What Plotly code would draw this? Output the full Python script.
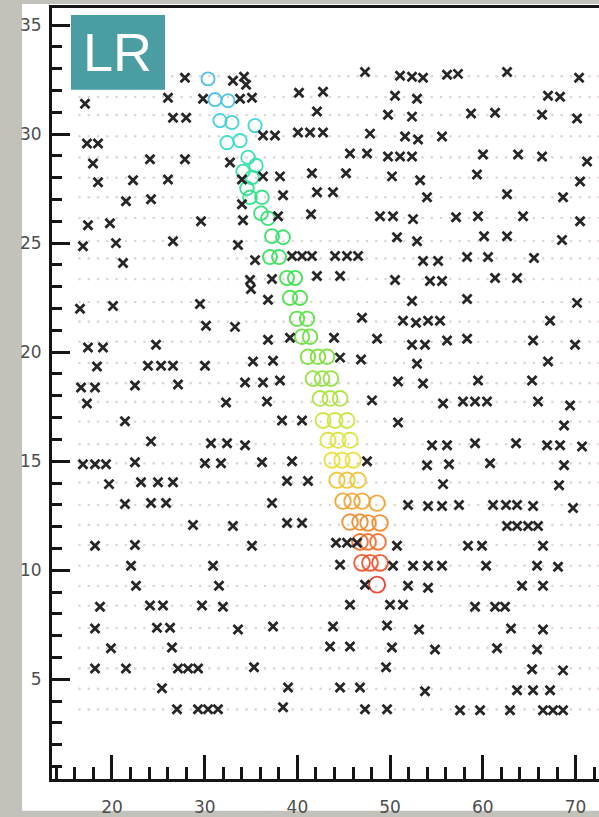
import numpy as np
import plotly.graph_objects as go

# Pad rows of the readout plane (row centre heights)
ROW_Y = [32.65, 31.70, 30.87, 29.90, 28.93, 28.00, 27.10, 26.15, 25.10, 24.30, 23.35,
         22.30, 21.40, 20.48, 19.50, 18.58, 17.72, 16.82, 15.78, 14.90, 14.02, 12.99,
         12.08, 11.16, 10.21, 9.28, 8.37, 7.35, 6.44, 5.50, 4.56, 3.62]
PAD_X_MIN, PAD_X_MAX, PAD_PITCH = 16.5, 73.0, 1.0

# Noise hits (x, y), listed row by row from top to bottom
HIT_X = [
    27.87, 33.05, 34.24, 34.46, 47.29, 51.07, 52.36, 53.55, 56.14, 57.32, 62.61, 70.38,
    17.09, 26.04, 29.82, 33.81, 35.10, 40.17, 42.76, 50.53, 52.90, 67.03, 68.33,
    26.58, 28.00, 42.11, 49.77, 52.36, 58.73, 61.32, 66.39, 70.16,
    17.30, 18.49, 36.29, 37.58, 40.06, 41.36, 42.76, 47.83, 51.61, 53.01, 55.60,
    17.95, 24.10, 27.87, 32.73, 45.67, 47.51, 49.77, 51.07, 52.36, 60.02, 63.80, 66.39, 71.24,
    18.49, 22.27, 26.04, 34.02, 36.29, 38.12, 41.57, 45.24, 50.20, 53.23, 59.37, 70.49,
    21.51, 24.21, 34.02, 38.45, 42.11, 43.84, 53.98, 62.61, 68.65,
    17.41, 19.78, 29.60, 34.13, 37.91, 41.47, 48.91, 50.31, 52.47, 57.11, 59.48, 64.34, 70.49,
    16.87, 20.43, 26.58, 33.59, 50.74, 52.90, 60.13, 62.61, 68.54,
    21.19, 35.43, 39.42, 40.50, 41.57, 44.06, 45.35, 46.54, 53.55, 55.17, 58.30, 60.56, 65.52,
    34.89, 34.99, 37.26, 42.11, 44.60, 50.53, 54.30, 55.60, 61.32, 63.69,
    16.55, 20.11, 29.49, 36.83, 52.36, 58.30, 70.16,
    30.14, 33.27, 46.97, 51.39, 52.79, 54.09, 55.38, 67.25,
    17.41, 19.03, 24.75, 36.83, 39.20, 43.95, 48.59, 52.36, 53.76, 56.14, 58.30, 65.42, 69.95,
    18.38, 23.88, 25.29, 26.58, 30.03, 35.21, 37.37, 44.60, 46.86, 52.90, 67.03,
    16.66, 18.17, 22.48, 27.12, 34.35, 36.29, 38.12, 50.85, 53.55, 59.48, 65.31,
    17.30, 32.30, 36.72, 48.05, 55.71, 57.86, 59.16, 60.45, 65.95, 69.41,
    21.40, 38.34, 40.50, 50.85, 68.76,
    24.21, 30.68, 32.41, 34.35, 54.52, 56.14, 59.16, 63.58, 66.93, 68.33, 70.70,
    16.87, 18.17, 19.35, 22.48, 30.03, 31.76, 36.18, 39.42, 47.51, 53.98, 56.35, 60.78, 68.76,
    19.68, 23.13, 24.96, 26.58, 38.88, 41.14, 55.71, 68.22,
    21.40, 24.21, 25.83, 37.26, 51.93, 54.09, 55.60, 57.43, 61.10, 62.50, 63.69, 65.42, 69.73,
    28.74, 33.05, 38.88, 40.50, 62.61, 63.69, 64.88, 65.95,
    18.17, 22.48, 35.10, 44.16, 45.35, 46.43, 50.74, 58.40, 59.91, 66.49,
    22.05, 30.90, 44.60, 50.31, 52.47, 54.09, 55.60, 60.35, 65.85, 68.11,
    22.59, 31.54, 47.29, 51.93, 54.09, 64.23, 66.49,
    18.71, 24.10, 25.50, 29.71, 31.97, 45.67, 49.99, 51.39, 59.16, 61.32, 62.39,
    18.17, 24.85, 26.26, 33.59, 37.37, 43.84, 49.67, 53.12, 63.04, 66.49,
    19.89, 26.47, 43.52, 45.67, 50.20, 54.84, 61.53, 65.85,
    18.17, 21.51, 27.12, 28.20, 29.28, 35.32, 49.56, 65.31, 68.65,
    25.39, 38.99, 44.60, 46.75, 53.76, 63.69, 65.42, 67.25,
    27.01, 29.28, 30.36, 31.43, 38.45, 47.29, 49.67, 57.54, 59.70, 62.93, 66.49, 67.57, 68.65,
]
HIT_Y = [
    32.58, 32.44, 32.63, 32.26, 32.85, 32.67, 32.63, 32.58, 32.72, 32.76, 32.85, 32.58,
    31.39, 31.67, 31.62, 31.62, 31.67, 31.89, 31.94, 31.76, 31.62, 31.76, 31.71,
    30.75, 30.75, 31.03, 30.89, 30.80, 30.94, 30.98, 30.89, 30.71,
    29.57, 29.57, 29.93, 29.93, 30.07, 30.07, 30.07, 30.02, 29.89, 29.75, 29.89,
    28.65, 28.84, 28.84, 28.70, 29.11, 29.11, 28.97, 28.97, 28.97, 29.06, 29.06, 28.97, 28.74,
    27.79, 27.88, 27.92, 27.92, 28.06, 28.06, 28.20, 28.20, 28.06, 27.88, 28.15, 27.83,
    26.92, 27.01, 26.78, 27.19, 27.33, 27.33, 27.10, 27.24, 27.10,
    25.82, 25.91, 26.00, 26.05, 26.23, 26.32, 26.23, 26.23, 26.10, 26.19, 26.23, 26.23, 26.00,
    24.86, 25.00, 25.09, 24.91, 25.27, 25.09, 25.32, 25.32, 25.14,
    24.09, 24.22, 24.41, 24.41, 24.41, 24.41, 24.41, 24.41, 24.18, 24.18, 24.36, 24.36, 24.32,
    23.31, 22.90, 23.36, 23.49, 23.49, 23.31, 23.26, 23.26, 23.40, 23.40,
    21.99, 22.12, 22.21, 22.40, 22.35, 22.44, 22.26,
    21.21, 21.16, 21.58, 21.44, 21.35, 21.44, 21.44, 21.44,
    20.21, 20.21, 20.34, 20.57, 20.66, 20.66, 20.62, 20.34, 20.34, 20.53, 20.62, 20.53, 20.34,
    19.34, 19.38, 19.38, 19.38, 19.38, 19.57, 19.61, 19.75, 19.66, 19.47, 19.57,
    18.38, 18.38, 18.47, 18.52, 18.61, 18.61, 18.70, 18.65, 18.56, 18.70, 18.70,
    17.65, 17.69, 17.74, 17.79, 17.65, 17.74, 17.74, 17.74, 17.74, 17.56,
    16.83, 16.87, 16.87, 16.78, 16.64,
    15.91, 15.82, 15.82, 15.73, 15.73, 15.73, 15.82, 15.82, 15.73, 15.73, 15.68,
    14.86, 14.86, 14.86, 14.95, 14.91, 14.91, 14.95, 15.00, 15.00, 14.82, 14.86, 14.91, 14.82,
    13.95, 14.04, 14.04, 14.04, 14.09, 14.09, 13.95, 13.90,
    13.04, 13.08, 13.08, 13.08, 12.99, 12.95, 12.95, 12.99, 12.99, 12.99, 12.99, 12.95, 12.85,
    12.08, 12.03, 12.17, 12.17, 12.03, 12.03, 12.03, 12.03,
    11.12, 11.16, 11.12, 11.26, 11.26, 11.26, 11.12, 11.12, 11.12, 11.12,
    10.21, 10.21, 10.25, 10.21, 10.21, 10.21, 10.21, 10.21, 10.21, 10.16,
    9.29, 9.29, 9.34, 9.29, 9.20, 9.29, 9.29,
    8.33, 8.38, 8.38, 8.38, 8.33, 8.42, 8.42, 8.42, 8.33, 8.33, 8.33,
    7.33, 7.37, 7.37, 7.28, 7.42, 7.42, 7.47, 7.28, 7.33, 7.28,
    6.42, 6.46, 6.51, 6.51, 6.46, 6.37, 6.42, 6.37,
    5.50, 5.50, 5.50, 5.50, 5.50, 5.55, 5.55, 5.46, 5.41,
    4.59, 4.63, 4.63, 4.63, 4.45, 4.50, 4.50, 4.50,
    3.63, 3.63, 3.63, 3.63, 3.72, 3.63, 3.63, 3.58, 3.58, 3.58, 3.58, 3.58, 3.58,
]

# Track pads (x, y) from top of the track to its end
TRACK_X = [30.36, 31.11, 32.51, 31.65, 32.94, 35.43, 32.41, 33.81, 34.67, 35.53, 34.13, 35.10,
           34.56, 34.89, 36.18, 36.07, 36.83, 37.26, 38.45, 37.04, 38.02, 38.88, 39.74,
           39.20, 40.28, 39.96, 41.04, 40.50, 41.36, 41.14, 42.22, 43.19, 41.68, 42.65, 43.62,
           42.44, 43.52, 44.60, 42.76, 44.06, 45.35, 43.30, 44.38, 45.67, 43.73, 44.81, 46.00,
           44.27, 45.35, 46.54, 44.92, 45.89, 46.97, 48.59, 45.67, 46.75, 47.62, 48.91,
           46.75, 47.62, 48.69, 46.97, 47.83, 48.91, 48.59]
TRACK_Y = [32.53, 31.58, 31.53, 30.62, 30.53, 30.39, 29.61, 29.70, 28.93, 28.56, 28.29, 28.01,
           27.51, 27.10, 27.10, 26.37, 26.14, 25.32, 25.27, 24.36, 24.36, 23.40, 23.40,
           22.49, 22.49, 21.53, 21.53, 20.71, 20.71, 19.79, 19.79, 19.79, 18.79, 18.79, 18.79,
           17.88, 17.88, 17.88, 16.87, 16.87, 16.87, 15.96, 15.96, 15.96, 15.05, 15.05, 15.05,
           14.13, 14.13, 14.13, 13.17, 13.17, 13.17, 13.08, 12.21, 12.21, 12.17, 12.17,
           11.30, 11.30, 11.30, 10.34, 10.34, 10.34, 9.34]

X_TICKS = [20, 30, 40, 50, 60, 70]
Y_TICKS = [5, 10, 15, 20, 25, 30, 35]
PANEL_LABEL = "LR"

X_RANGE = [13.53, 72.53]
Y_RANGE = [0.43, 35.78]

TRACK_COLORS = [
    [0.00, "#e8402c"], [0.04, "#ef5530"], [0.08, "#f07030"], [0.12, "#f08a30"],
    [0.16, "#f0a030"], [0.20, "#f0c038"], [0.245, "#ece040"], [0.32, "#cce840"],
    [0.40, "#98e040"], [0.48, "#70e040"], [0.59, "#44e04c"], [0.72, "#34e070"],
    [0.80, "#30e098"], [0.875, "#38dcc8"], [0.93, "#44cce0"], [1.00, "#52bce8"],
]

# pad grid of the readout plane
pad_x, pad_y = [], []
for ry in ROW_Y:
    xs = np.arange(PAD_X_MIN, PAD_X_MAX, PAD_PITCH)
    pad_x.extend(xs.tolist())
    pad_y.extend([ry] * len(xs))

track_y = np.array(TRACK_Y)
track_size = 13 + 3.0 * (max(TRACK_Y) - track_y) / (max(TRACK_Y) - min(TRACK_Y))

fig = go.Figure()
fig.add_trace(go.Scatter(
    x=pad_x, y=pad_y, mode="markers", hoverinfo="skip",
    marker=dict(symbol="circle", size=2.6, color="#ddd4d4"),
))
fig.add_trace(go.Scatter(
    x=TRACK_X, y=TRACK_Y, mode="markers",
    marker=dict(symbol="circle-open", size=track_size, color=TRACK_Y,
                colorscale=TRACK_COLORS, cmin=min(TRACK_Y), cmax=max(TRACK_Y),
                line=dict(width=1.9), opacity=0.95),
))
fig.add_trace(go.Scatter(
    x=HIT_X, y=HIT_Y, mode="markers",
    marker=dict(symbol="x-thin", size=9, color="#262626",
                line=dict(width=2.8, color="#262626")),
))

axis_font = dict(family="DejaVu Sans, Liberation Sans, sans-serif", size=17, color="#4e4e4e")

fig.update_layout(
    width=599, height=817,
    margin=dict(l=52, r=0, t=8, b=35),
    paper_bgcolor="#c3c2ba",
    plot_bgcolor="white",
    showlegend=False,
    xaxis=dict(
        range=X_RANGE, tickvals=X_TICKS, ticks="inside", ticklen=24, tickwidth=3,
        tickcolor="#151515", showline=True, linewidth=3, linecolor="#151515", mirror=True,
        showgrid=False, zeroline=False, tickfont=axis_font, ticklabelstandoff=11,
        minor=dict(dtick=2, tick0=0, ticks="inside", ticklen=12, tickwidth=3,
                   tickcolor="#151515", showgrid=False),
    ),
    yaxis=dict(
        range=Y_RANGE, tickvals=Y_TICKS, ticks="inside", ticklen=18, tickwidth=3,
        tickcolor="#151515", showline=True, linewidth=3, linecolor="#151515", mirror=False,
        showgrid=False, zeroline=False, tickfont=axis_font, ticklabelstandoff=4,
        minor=dict(dtick=1, tick0=0, ticks="inside", ticklen=10, tickwidth=3,
                   tickcolor="#151515", showgrid=False),
    ),
    shapes=[
        # white page behind the axes
        dict(type="rect", xref="paper", yref="paper", x0=-0.0548, x1=1.02,
             y0=-0.0413, y1=1.0052, fillcolor="white", line=dict(width=0), layer="below"),
        # panel tag box
        dict(type="rect", xref="paper", yref="paper", x0=0.0347, x1=0.2066,
             y0=0.894, y1=0.991, fillcolor="#4a9ea1", line=dict(width=0), layer="above"),
    ],
    annotations=[
        dict(text=PANEL_LABEL, xref="paper", yref="paper", x=0.1206, y=0.9425,
             xanchor="center", yanchor="middle", showarrow=False,
             font=dict(family="Liberation Sans, Arial, sans-serif", size=54, color="white")),
    ],
)

fig.write_html("out.html")
